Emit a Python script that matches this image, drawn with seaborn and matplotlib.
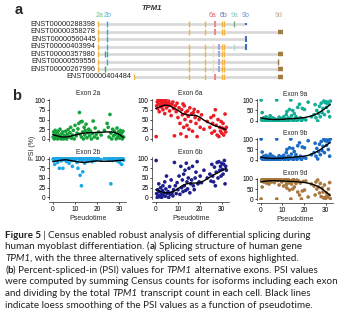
import numpy as np
import pandas as pd
import matplotlib
matplotlib.use("Agg")
import matplotlib.pyplot as plt
import seaborn as sns

# ---------------- data ----------------
transcripts = ["ENST00000288398", "ENST00000358278", "ENST00000560445", "ENST00000403994",
               "ENST00000357980", "ENST00000559556", "ENST00000267996", "ENST00000404484"]
tx_start = [7.5, 7.5, 7.5, 7.5, 7.5, 7.5, 7.5, 43.5]
tx_end = [156, 190, 156, 156, 190, 189, 190, 190]
# exon positions along gene (kind per exon)
tx_exons = [
    [(7.5, "c"), (16.8, "2b"), (99, "c"), (115.3, "c"), (125, "6a"), (132.3, "c"), (134.3, "c"), (144, "9a"), (156, "9bs")],
    [(7.5, "c"), (16.8, "2b"), (99, "c"), (115.3, "c"), (125, "6a"), (132.3, "c"), (134.3, "c"), (190, "9d")],
    [(7.5, "c"), (16.8, "2b"), (156, "9b")],
    [(7.5, "c"), (16.8, "2b"), (99, "c"), (115.3, "c"), (123.3, "cl"), (129, "6b"), (132.3, "c"), (134.3, "c"), (144, "9al"), (156, "9b")],
    [(7.5, "c"), (15.3, "2a"), (16.8, "2b"), (99, "c"), (115.3, "c"), (123.3, "cl"), (129, "6b"), (132.3, "c"), (134.3, "c"), (190, "9d")],
    [(7.5, "c"), (16.8, "2b"), (99, "c"), (115.3, "c"), (123.3, "cl"), (129, "6b"), (132.3, "c"), (134.3, "c"), (188.3, "9dt")],
    [(7.5, "c"), (15.3, "2a"), (99, "c"), (115.3, "c"), (123.3, "cl"), (129, "6b"), (132.3, "c"), (134.3, "c"), (190, "9d")],
    [(43.5, "c"), (99, "c"), (115.3, "c"), (125, "6a"), (132.3, "c"), (134.3, "c"), (190, "9d")],
]
exon_labels = ["2a", "2b", "6a", "6b", "9a", "9b", "9d"]
exon_label_pos = [9.5, 18, 122.3, 133.3, 145, 156, 189]

pseudotime = [0.2, 0.4, 0.7, 0.9, 1.1, 1.4, 1.6, 1.9, 2.2, 2.5,
              2.7, 3.0, 3.3, 3.5, 3.8, 4.1, 4.4, 4.6, 4.9, 5.3,
              5.6, 5.9, 6.3, 6.6, 7.0, 7.4, 7.8, 8.1, 8.5, 8.9,
              9.3, 9.7, 10.1, 10.6, 11.0, 11.4, 11.8, 12.1, 12.4, 12.7,
              13.0, 13.3, 13.6, 13.9, 14.2, 14.5, 14.8, 15.1, 15.5, 15.9,
              16.3, 16.7, 17.1, 17.5, 17.9, 18.3, 18.8, 19.2, 19.7, 20.2,
              20.8, 21.9, 23.4, 24.6, 25.1, 25.5, 25.9, 26.3, 26.7, 27.1,
              27.5, 27.9, 28.3, 28.7, 29.1, 29.4, 29.7, 30.0, 30.3, 30.6,
              30.9, 31.2, 31.5, 31.8, 32.1]

psi_2a = [5, 18, 0, 12, 22, 3, 8, 15, 0, 20,
          10, 2, 25, 6, 0, 14, 4, 18, 0, 9,
          3, 20, 0, 12, 24, 5, 16, 30, 2, 10,
          22, 0, 35, 8, 15, 26, 40, 68, 12, 44,
          5, 45, 18, 0, 30, 10, 22, 38, 3, 16,
          25, 8, 20, 0, 14, 46, 5, 28, 12, 2,
          18, 10, 22, 40, 30, 5, 63, 15, 0, 25,
          8, 20, 12, 0, 28, 5, 18, 10, 2, 22,
          8, 15, 0, 20, 5]
psi_2b = [98, 100, 95, 85, 100, 97, 99, 100, 90, 96,
          100, 75, 98, 100, 94, 99, 100, 75, 97, 100,
          96, 100, 92, 99, 100, 88, 97, 100, 95, 80,
          100, 98, 96, 100, 90, 75, 100, 98, 57, 100,
          30, 95, 66, 100, 99, 88, 100, 97, 100, 94,
          100, 98, 96, 100, 92, 100, 99, 95, 100, 98,
          100, 97, 100, 99, 96, 100, 98, 35, 100, 95,
          99, 100, 97, 100, 94, 100, 98, 100, 90, 99,
          100, 85, 98, 100, 96]
psi_6a = [6, 85, 95, 78, 100, 90, 70, 88, 98, 82,
          92, 100, 75, 86, 95, 65, 90, 100, 80, 93,
          85, 97, 72, 90, 60, 88, 95, 78, 8, 85,
          70, 92, 55, 80, 40, 13, 75, 62, 90, 30,
          85, 50, 68, 6, 35, 72, 58, 25, 80, 45,
          65, 20, 68, 76, 55, 40, 6, 70, 50, 30,
          62, 25, 45, 30, 55, 15, 40, 60, 20, 75,
          35, 10, 50, 6, 30, 20, 45, 15, 28, 40,
          10, 25, 64, 18, 30]
psi_6b = [95, 10, 0, 20, 5, 35, 15, 2, 25, 8,
          0, 18, 30, 5, 12, 40, 3, 22, 55, 10,
          15, 0, 28, 8, 45, 12, 4, 20, 90, 30,
          10, 38, 20, 55, 8, 80, 25, 45, 15, 60,
          30, 70, 18, 88, 40, 22, 50, 75, 12, 35,
          45, 80, 30, 20, 50, 65, 92, 35, 40, 55,
          38, 70, 50, 60, 42, 85, 55, 40, 78, 30,
          65, 90, 50, 92, 70, 80, 55, 88, 72, 60,
          85, 95, 35, 80, 70]
psi_9a = [100, 5, 40, 10, 0, 15, 2, 8, 0, 20,
          3, 10, 0, 5, 12, 0, 25, 2, 8, 0,
          15, 4, 0, 10, 2, 100, 6, 0, 18, 3,
          0, 12, 5, 20, 0, 8, 30, 45, 2, 15,
          0, 55, 10, 100, 25, 5, 50, 0, 35, 12,
          20, 0, 65, 8, 80, 15, 0, 60, 10, 55,
          5, 90, 20, 30, 78, 15, 50, 0, 35, 70,
          20, 85, 40, 60, 95, 30, 88, 92, 65, 85,
          90, 45, 80, 20, 95]
psi_9b = [100, 8, 38, 12, 0, 18, 4, 10, 2, 22,
          5, 12, 0, 8, 15, 2, 28, 4, 10, 0,
          18, 6, 2, 12, 4, 100, 8, 0, 20, 5,
          2, 15, 8, 22, 0, 10, 35, 50, 4, 18,
          2, 58, 12, 100, 28, 6, 55, 2, 40, 15,
          25, 3, 68, 10, 82, 18, 2, 62, 12, 58,
          8, 92, 25, 35, 80, 18, 55, 5, 40, 75,
          25, 88, 45, 65, 98, 35, 92, 95, 70, 90,
          95, 50, 85, 18, 100]
psi_9d = [0, 95, 60, 90, 100, 85, 98, 92, 100, 80,
          95, 88, 100, 92, 75, 98, 90, 100, 85, 95,
          100, 90, 82, 98, 95, 0, 92, 100, 70, 96,
          100, 85, 92, 65, 98, 90, 72, 55, 100, 80,
          95, 45, 88, 0, 75, 92, 50, 98, 60, 85,
          78, 95, 35, 90, 20, 80, 0, 40, 88, 45,
          90, 10, 75, 65, 20, 85, 50, 95, 60, 30,
          78, 12, 55, 35, 5, 70, 8, 3, 30, 15,
          10, 50, 20, 82, 2]

loess_t = [0, 2, 4, 6, 8, 10, 12, 14, 16, 18, 20, 22, 24, 26, 28, 30, 32]
loess_2a = [11, 8, 5, 5, 7, 10, 13, 15, 16, 16, 17, 17, 18, 18, 17, 12, 4]
loess_2b = [92, 94, 96, 97, 95, 93, 91, 90, 91, 93, 94, 93, 93, 93, 94, 95, 96]
loess_6a = [78, 83, 87, 86, 80, 74, 66, 62, 61, 61, 56, 48, 42, 36, 32, 28, 24]
loess_6b = [20, 15, 12, 12, 15, 22, 30, 35, 37, 37, 38, 43, 50, 57, 63, 69, 75]
loess_9a = [15, 11, 8, 7, 7, 8, 10, 11, 12, 14, 16, 20, 26, 35, 47, 62, 78]
loess_9b = [14, 10, 8, 7, 8, 9, 11, 12, 14, 16, 18, 22, 30, 40, 53, 68, 83]
loess_9d = [85, 89, 91, 92, 91, 90, 89, 88, 87, 85, 83, 79, 73, 65, 53, 36, 18]

caption_lines = [
    [("Figure 5", "bold", "normal"), (" | ", "normal", "normal"),
     ("Census enabled robust analysis of differential splicing during", "normal", "normal")],
    [("human myoblast differentiation. (", "normal", "normal"), ("a", "bold", "normal"),
     (") Splicing structure of human gene", "normal", "normal")],
    [("TPM1", "normal", "italic"), (", with the three alternatively spliced sets of exons highlighted.", "normal", "normal")],
    [("(", "normal", "normal"), ("b", "bold", "normal"), (") Percent-spliced-in (PSI) values for ", "normal", "normal"),
     ("TPM1", "normal", "italic"), (" alternative exons. PSI values", "normal", "normal")],
    [("were computed by summing Census counts for isoforms including each exon", "normal", "normal")],
    [("and dividing by the total ", "normal", "normal"), ("TPM1", "normal", "italic"),
     (" transcript count in each cell. Black lines", "normal", "normal")],
    [("indicate loess smoothing of the PSI values as a function of pseudotime.", "normal", "normal")],
]

# ---------------- style ----------------
sns.set_theme(style="ticks")
plt.rcParams["font.family"] = ["Liberation Sans", "DejaVu Sans"]
plt.rcParams["axes.linewidth"] = 0.5
plt.rcParams["xtick.major.width"] = 0.5
plt.rcParams["ytick.major.width"] = 0.5
plt.rcParams["xtick.major.size"] = 1.6
plt.rcParams["ytick.major.size"] = 1.6
plt.rcParams["xtick.major.pad"] = 1.2
plt.rcParams["ytick.major.pad"] = 1.0

W, H = 353, 329
fig = plt.figure(figsize=(W / 100, H / 100), dpi=100)
fig.patch.set_facecolor("white")


def px_axes(L, R, T, B):
    return fig.add_axes([L / W, 1 - B / H, (R - L) / W, (B - T) / H])


# ---------------- panel a ----------------
axa = px_axes(90, 290, 20.6, 80.4)
axa.set_xlim(0, 200)
axa.set_ylim(7.5, -0.5)
axa.axis("off")

kind_color = {"c": "#f2b23e", "cl": "#f8d69c", "2a": "#3aaa5c", "2b": "#2aaae2",
              "6a": "#ee8890", "6b": "#a8a8d8", "9a": "#6fae8c", "9al": "#b0ddd2",
              "9b": "#3d70c0", "9bs": "#3d70c0", "9d": "#a37c45", "9dt": "#a37c45"}
for i, name in enumerate(transcripts):
    axa.plot([tx_start[i], tx_end[i]], [i, i], color="#d8d8d8", lw=1.9, solid_capstyle="butt", zorder=1)
    axa.text(tx_start[i] - 1.8, i, name, ha="right", va="center", fontsize=5.3, color="#222222")
    for pos, kind in tx_exons[i]:
        col = kind_color[kind]
        if kind == "9d":
            axa.plot([pos - 2.5, pos + 3.0], [i, i], color=col, lw=3.2, solid_capstyle="butt", zorder=3)
        elif kind == "9bs":
            axa.plot([pos, pos], [i - 0.15, i + 0.15], color=col, lw=1.6, solid_capstyle="butt", zorder=3)
        elif kind == "9b":
            axa.plot([pos, pos], [i - 0.42, i + 0.42], color=col, lw=1.5, solid_capstyle="butt", zorder=3)
        elif kind in ("6a", "6b"):
            axa.plot([pos, pos], [i - 0.38, i + 0.38], color=col, lw=1.5, solid_capstyle="butt", zorder=3)
        else:
            axa.plot([pos, pos], [i - 0.38, i + 0.38], color=col, lw=1.0, solid_capstyle="butt", zorder=3)

label_colors = ["#6cc489", "#4db8e8", "#e5636c", "#6c6cb4", "#84d0c2", "#6a96d2", "#c4a784"]
for lab, pos, col in zip(exon_labels, exon_label_pos, label_colors):
    axa.text(pos, -1.15, lab, ha="center", va="center", fontsize=5.0, color=col, clip_on=False)
axa.text(62, -2.15, "TPM1", ha="center", va="center", fontsize=5.5, style="italic",
         fontweight="bold", color="#333333", clip_on=False)

fig.text(15 / W, 1 - 10 / H, "a", fontsize=10.5, fontweight="bold", ha="left", va="center")
fig.text(12 / W, 1 - 96 / H, "b", fontsize=10.5, fontweight="bold", ha="left", va="center")

# ---------------- panel b ----------------
panels = [
    ("Exon 2a", psi_2a, loess_2a, "#16a23a", (49.2, 126.3, 98.5, 140.5), [0, 25, 50, 75, 100], False),
    ("Exon 2b", psi_2b, loess_2b, "#1ea7e6", (49.2, 126.3, 157.0, 199.0), [0, 25, 50, 75, 100], True),
    ("Exon 6a", psi_6a, loess_6a, "#ec1c24", (152.2, 229.0, 98.5, 140.5), [0, 25, 50, 75, 100], False),
    ("Exon 6b", psi_6b, loess_6b, "#1e1e8c", (152.2, 229.0, 157.0, 199.0), [0, 25, 50, 75, 100], True),
    ("Exon 9a", psi_9a, loess_9a, "#12ad96", (257.2, 332.9, 99.2, 121.8), [0, 50, 100], False),
    ("Exon 9b", psi_9b, loess_9b, "#1b6cc6", (257.2, 332.9, 138.2, 160.8), [0, 50, 100], False),
    ("Exon 9d", psi_9d, loess_9d, "#a8783e", (257.2, 332.9, 178.2, 199.8), [0, 50, 100], True),
]

for title, psi, lo, col, box, yt, bottom in panels:
    ax = px_axes(*box)
    df = pd.DataFrame({"pseudotime": pseudotime, "psi": psi})
    dl = pd.DataFrame({"pseudotime": loess_t, "psi": lo})
    sns.scatterplot(data=df, x="pseudotime", y="psi", ax=ax, color=col, s=7,
                    linewidth=0, edgecolor="none", zorder=2)
    sns.lineplot(data=dl, x="pseudotime", y="psi", ax=ax, color="black", lw=1.0, zorder=3)
    ax.set_xlim(-1.6, 33.3)
    ax.set_ylim(-4, 104)
    ax.set_yticks(yt)
    ax.set_yticklabels([str(v) for v in yt])
    ax.tick_params(axis="both", labelsize=4.7, colors="black", direction="out")
    ax.set_title(title, fontsize=4.8, pad=2.2)
    ax.set_ylabel("")
    ax.spines["top"].set_visible(False)
    ax.spines["right"].set_visible(False)
    ax.set_facecolor("none")
    if bottom:
        ax.spines["bottom"].set_position(("outward", 2.5))
        ax.set_xticks([0, 10, 20, 30])
        ax.set_xlabel("Pseudotime", fontsize=5.0, labelpad=1.5)
    else:
        ax.spines["bottom"].set_visible(False)
        ax.set_xticks([])
        ax.set_xlabel("")

fig.text(33 / W, 1 - 148 / H, "PSI (%)", rotation=90, fontsize=5.0, ha="center", va="center")

# ---------------- caption ----------------
renderer = fig.canvas.get_renderer()
cap_font = ["Lato", "DejaVu Sans"]


def seg_width(txt, size, weight, style):
    t1 = fig.text(0, 0, "x" + txt + "x", fontsize=size, fontweight=weight, fontstyle=style, family=cap_font)
    t2 = fig.text(0, 0, "xx", fontsize=size, fontweight=weight, fontstyle=style, family=cap_font)
    w = t1.get_window_extent(renderer).width - t2.get_window_extent(renderer).width
    t1.remove()
    t2.remove()
    return w


base = 7.0
w1 = sum(seg_width(t, base, wt, st) for t, wt, st in caption_lines[0])
cap_size = base * 307.0 / w1

line_centers = [235, 246.7, 258.7, 270.2, 281.8, 293.4, 305.2]
for segs, yc in zip(caption_lines, line_centers):
    x = 5.0
    for txt, wt, st in segs:
        fig.text(x / W, 1 - (yc + 2.6) / H, txt, fontsize=cap_size, fontweight=wt, fontstyle=st,
                 family=cap_font, ha="left", va="baseline", color="#231f20")
        x += seg_width(txt, cap_size, wt, st)

fig.savefig("out.png", dpi=100, facecolor="white")
